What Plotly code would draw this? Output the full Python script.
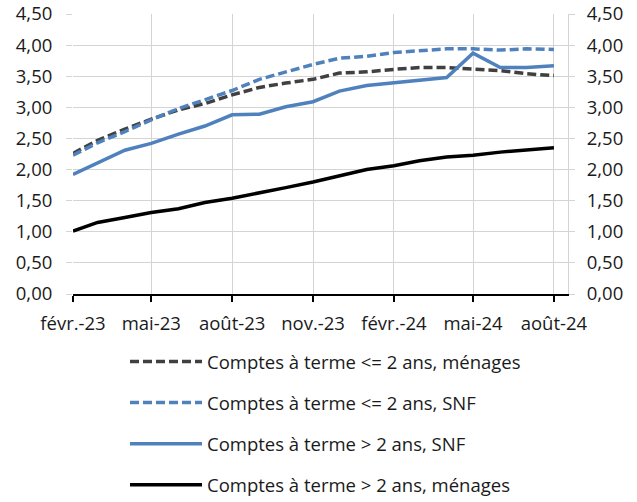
import plotly.graph_objects as go

months = ["2023-02-01", "2023-03-01", "2023-04-01", "2023-05-01", "2023-06-01",
          "2023-07-01", "2023-08-01", "2023-09-01", "2023-10-01", "2023-11-01",
          "2023-12-01", "2024-01-01", "2024-02-01", "2024-03-01", "2024-04-01",
          "2024-05-01", "2024-06-01", "2024-07-01", "2024-08-01"]

menages_le2 = [2.26, 2.47, 2.65, 2.81, 2.96, 3.06, 3.20, 3.32, 3.39, 3.45,
               3.55, 3.57, 3.61, 3.64, 3.64, 3.62, 3.59, 3.54, 3.51]
snf_le2 = [2.23, 2.43, 2.61, 2.80, 2.98, 3.12, 3.27, 3.45, 3.57, 3.69,
           3.79, 3.82, 3.88, 3.91, 3.94, 3.94, 3.92, 3.94, 3.93]
snf_gt2 = [1.92, 2.10, 2.31, 2.42, 2.57, 2.70, 2.88, 2.89, 3.01, 3.09,
           3.26, 3.35, 3.39, 3.44, 3.48, 3.87, 3.64, 3.64, 3.67]
menages_gt2 = [1.01, 1.15, 1.23, 1.31, 1.37, 1.47, 1.54, 1.62, 1.71, 1.80,
               1.90, 2.00, 2.06, 2.14, 2.20, 2.23, 2.28, 2.31, 2.35]

tick_vals = ["2023-02-01", "2023-05-01", "2023-08-01", "2023-11-01",
             "2024-02-01", "2024-05-01", "2024-08-01"]
tick_text = ["févr.-23", "mai-23", "août-23", "nov.-23", "févr.-24", "mai-24", "août-24"]

names = ["Comptes à terme <= 2 ans, ménages",
         "Comptes à terme <= 2 ans, SNF",
         "Comptes à terme > 2 ans, SNF",
         "Comptes à terme > 2 ans, ménages"]
series = [menages_le2, snf_le2, snf_gt2, menages_gt2]
colors = ["#404040", "#4F81BD", "#4F81BD", "#000000"]
dashes = ["9px,4px", "9px,4px", "solid", "solid"]

FONT = "Open Sans"
FS = 18.5
TXT = "#1a1a1a"
GRID = "#d4d4d4"

W, H = 637, 502
ML, MR, MT, MB = 73, 69, 14, 2
PH = H - MT - MB
PW = W - ML - MR
plot_bottom_px = 294
y_dom0 = (H - MB - plot_bottom_px) / PH

fig = go.Figure()
for i, (nm, s, c, d) in enumerate(zip(names, series, colors, dashes)):
    fig.add_trace(go.Scatter(
        x=months, y=s, name=nm, mode="lines",
        line=dict(color=c, width=3.5, dash=d),
        legendgroup=str(i), hoverinfo="skip"))

# invisible trace to activate the right axis
fig.add_trace(go.Scatter(x=months, y=menages_gt2, yaxis="y2", mode="lines",
                         line=dict(color="rgba(0,0,0,0)"), showlegend=False,
                         hoverinfo="skip"))

fig.update_layout(
    width=W, height=H,
    margin=dict(l=ML, r=MR, t=MT, b=MB, autoexpand=False),
    paper_bgcolor="white", plot_bgcolor="white",
    separators=", ",
    font=dict(family=FONT, size=FS, color=TXT),
    showlegend=True,
    legend=dict(x=(125 - ML) / PW, y=(H - MB - 343) / PH,
                xanchor="left", yanchor="top",
                orientation="v", tracegroupgap=14, itemwidth=72,
                font=dict(family=FONT, size=FS, color=TXT),
                bgcolor="rgba(0,0,0,0)"),
    xaxis=dict(type="date", range=["2023-02-01", "2024-08-17"],
               tickvals=tick_vals, ticktext=tick_text,
               showgrid=True, gridcolor=GRID, gridwidth=1,
               showline=True, linecolor="#000000", linewidth=1.5,
               ticks="outside", ticklen=6, tickcolor="#000000", tickwidth=1.5,
               ticklabelstandoff=6, zeroline=False, anchor="y",
               automargin=False),
    yaxis=dict(domain=[y_dom0, 1], range=[0, 4.5], dtick=0.5, tickformat=".2f",
               showgrid=True, gridcolor=GRID, gridwidth=1,
               ticks="outside", ticklen=6, tickcolor=GRID,
               ticklabelstandoff=10, showline=False, zeroline=False,
               automargin=False),
    yaxis2=dict(domain=[y_dom0, 1], range=[0, 4.5], dtick=0.5, tickformat=".2f",
                overlaying="y", side="right", showgrid=False,
                ticks="outside", ticklen=6, tickcolor=GRID,
                ticklabelstandoff=8,
                showline=True, linecolor=GRID, linewidth=1,
                zeroline=False, automargin=False),
)

fig.write_html("out.html", config={"displayModeBar": False},
               post_script="document.body.style.margin='0';document.body.style.padding='0';")
